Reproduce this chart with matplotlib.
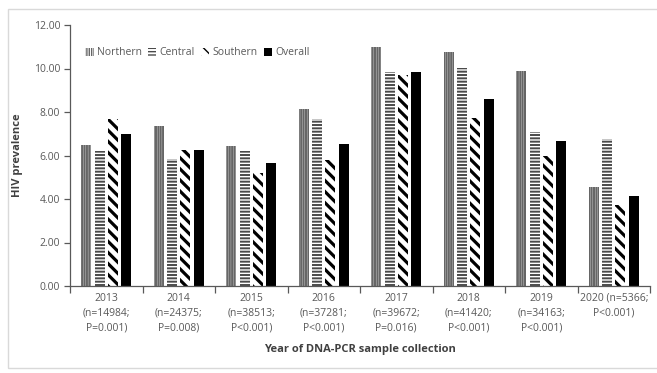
import matplotlib
matplotlib.use("Agg")
import matplotlib.pyplot as plt
import numpy as np
from matplotlib.patches import Rectangle

years = ["2013\n(n=14984;\nP=0.001)", "2014\n(n=24375;\nP=0.008)", "2015\n(n=38513;\nP<0.001)",
         "2016\n(n=37281;\nP<0.001)", "2017\n(n=39672;\nP=0.016)", "2018\n(n=41420;\nP<0.001)",
         "2019\n(n=34163;\nP<0.001)", "2020 (n=5366;\nP<0.001)"]
northern = [6.48, 7.36, 6.44, 8.14, 11.00, 10.74, 9.87, 4.54]
central = [6.20, 5.84, 6.20, 7.66, 9.84, 10.02, 7.09, 6.74]
southern = [7.68, 6.25, 5.18, 5.78, 9.70, 7.71, 5.99, 3.72]
overall = [6.99, 6.25, 5.64, 6.54, 9.84, 8.58, 6.67, 4.15]
yticks = [0, 2, 4, 6, 8, 10, 12]

plt.rcParams['font.family'] = ['Open Sans', 'DejaVu Sans']
txt = '#595959'

fig = plt.figure(figsize=(6.57, 3.73), dpi=100)
fig.patches.append(Rectangle((8/657, 1-368/373), 1, 359/373, transform=fig.transFigure,
                             fill=False, edgecolor='#d9d9d9', linewidth=1.0))
ax = fig.add_axes([70/657, 1-286/373, 580/657, 261/373])

x = np.arange(len(years))
w = 0.138
pitch = 0.185
series = [
    ("Northern", northern, dict(color='white', edgecolor='#666666', hatch='|||||||'), 1.5),
    ("Central", central, dict(color='white', edgecolor='#4a4a4a', hatch='-----'), 1.4),
    ("Southern", southern, dict(color='white', edgecolor='black', hatch='\\\\\\'), 2.3),
    ("Overall", overall, dict(color='black', edgecolor='black'), 1.0),
]
for i, (name, vals, kw, hlw) in enumerate(series):
    with plt.rc_context({'hatch.linewidth': hlw}):
        ax.bar(x + (i - 1.5) * pitch, vals, width=w, linewidth=0, label=name, **kw)

ax.set_xlim(-0.5, len(years) - 0.5)
ax.set_ylim(0, 12)
ax.set_yticks(yticks)
ax.set_yticklabels([f"{v:.2f}" for v in yticks], color=txt, fontsize=7.5)
ax.set_xticks(np.arange(len(years) + 1) - 0.5)
ax.set_xticklabels([])
ax.set_xticks(x, minor=True)
ax.set_xticklabels(years, minor=True, color=txt, fontsize=7.5, linespacing=1.45)
ax.tick_params(axis='x', which='minor', length=0, pad=5)
ax.tick_params(axis='x', which='major', length=5, color='#595959', width=0.9)
ax.tick_params(axis='y', length=4, color='#595959', width=0.9, pad=3)
for s in ['top', 'right']:
    ax.spines[s].set_visible(False)
for s in ['left', 'bottom']:
    ax.spines[s].set_color('#595959')
    ax.spines[s].set_linewidth(0.9)

ax.set_ylabel("HIV prevalence", fontsize=8, fontweight='bold', color='#404040', labelpad=8)
ax.set_xlabel("Year of DNA-PCR sample collection", fontsize=8, fontweight='bold', color='#404040', labelpad=8)

leg = ax.legend(loc='upper left', bbox_to_anchor=(0.01, 0.95), ncol=4, frameon=False,
                fontsize=7.5, handlelength=0.8, handleheight=0.8, handletextpad=0.3,
                columnspacing=0.6, labelcolor=txt)

fig.savefig("out.png", dpi=100)
